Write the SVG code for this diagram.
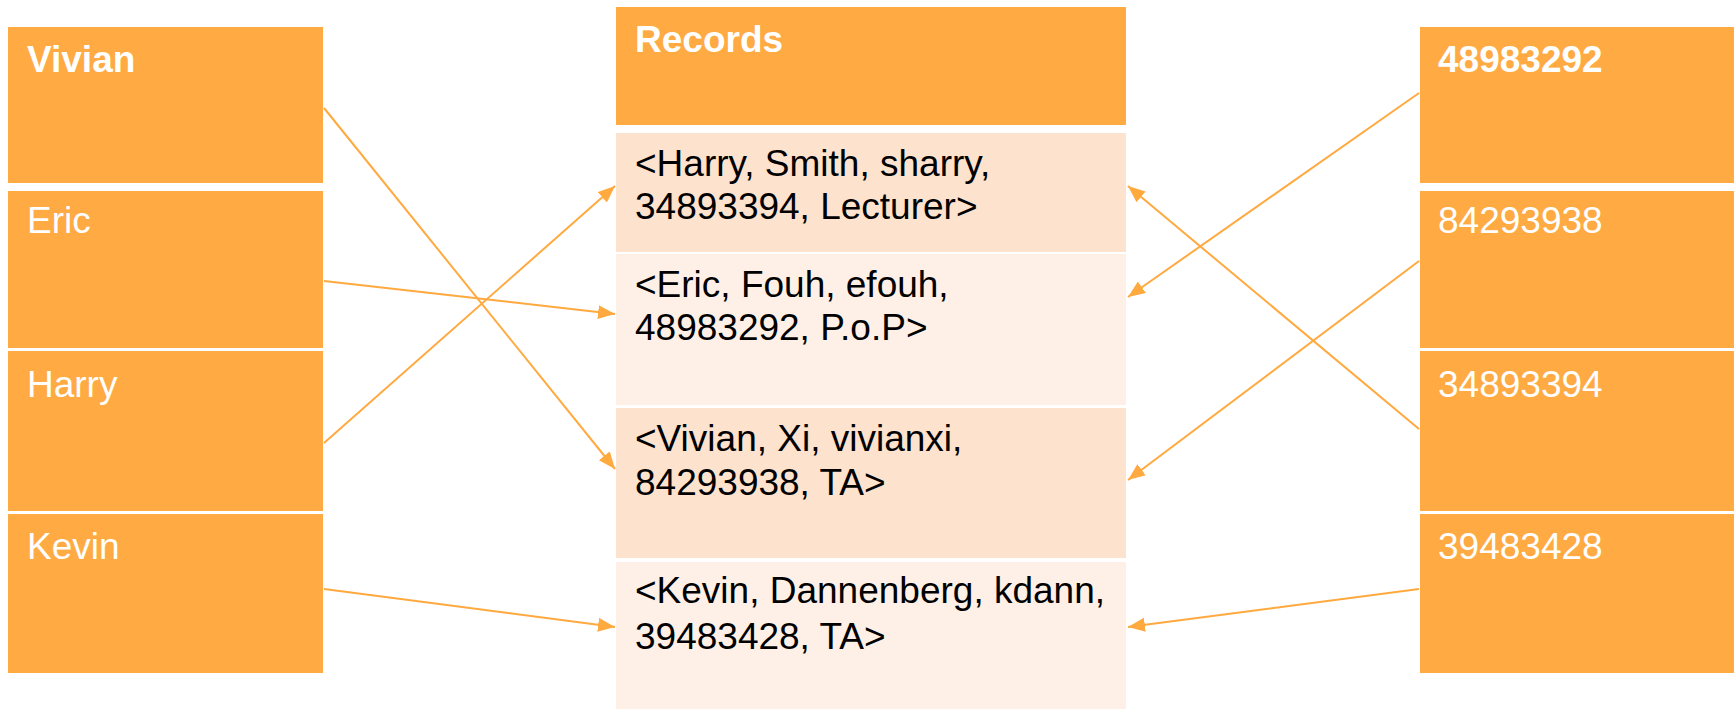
<svg xmlns="http://www.w3.org/2000/svg" width="1735" height="709" viewBox="0 0 1735 709">
  <style>
    .cell { fill: #FFAA42; }
    .rowA { fill: #FDE2CD; }
    .rowB { fill: #FEF0E7; }
    .head { font-family: "Liberation Sans", Arial, sans-serif; font-size: 37px; font-weight: bold; fill: #FFFFFF; }
    .lbl { font-family: "Liberation Sans", Arial, sans-serif; font-size: 37px; fill: #FFFFFF; }
    .rec { font-family: "Liberation Sans", Arial, sans-serif; font-size: 37px; fill: #000000; }
    .link { stroke: #FFA93F; stroke-width: 2; fill: none; marker-end: url(#arrow); }
  </style>
  <defs>
    <marker id="arrow" markerUnits="userSpaceOnUse" markerWidth="18" markerHeight="16" refX="17" refY="7" orient="auto">
      <path d="M0,0 L17,7 L0,14 z" fill="#FFA93F"/>
    </marker>
  </defs>
  <rect width="1735" height="709" fill="#FFFFFF"/>

  <!-- names column -->
  <g id="name-vivian">
    <rect class="cell" x="8" y="27" width="315" height="156"/>
    <text class="head" x="27" y="72">Vivian</text>
  </g>
  <g id="name-eric">
    <rect class="cell" x="8" y="191" width="315" height="157"/>
    <text class="lbl" x="27" y="233">Eric</text>
  </g>
  <g id="name-harry">
    <rect class="cell" x="8" y="351" width="315" height="160"/>
    <text class="lbl" x="27" y="397">Harry</text>
  </g>
  <g id="name-kevin">
    <rect class="cell" x="8" y="514" width="315" height="159"/>
    <text class="lbl" x="27" y="559">Kevin</text>
  </g>

  <!-- records column -->
  <g id="records-header">
    <rect class="cell" x="616" y="7" width="510" height="118"/>
    <text class="head" x="635" y="52">Records</text>
  </g>
  <g id="record-harry">
    <rect class="rowA" x="616" y="133" width="510" height="119"/>
    <text class="rec" x="635" y="176">&lt;Harry, Smith, sharry,</text>
    <text class="rec" x="635" y="219">34893394, Lecturer&gt;</text>
  </g>
  <g id="record-eric">
    <rect class="rowB" x="616" y="254" width="510" height="151"/>
    <text class="rec" x="635" y="297">&lt;Eric, Fouh, efouh,</text>
    <text class="rec" x="635" y="340">48983292, P.o.P&gt;</text>
  </g>
  <g id="record-vivian">
    <rect class="rowA" x="616" y="408" width="510" height="150"/>
    <text class="rec" x="635" y="451">&lt;Vivian, Xi, vivianxi,</text>
    <text class="rec" x="635" y="495">84293938, TA&gt;</text>
  </g>
  <g id="record-kevin">
    <rect class="rowB" x="616" y="562" width="510" height="147"/>
    <text class="rec" x="635" y="603">&lt;Kevin, Dannenberg, kdann,</text>
    <text class="rec" x="635" y="649">39483428, TA&gt;</text>
  </g>

  <!-- ids column -->
  <g id="id-48983292">
    <rect class="cell" x="1420" y="27" width="314" height="156"/>
    <text class="head" x="1438" y="72">48983292</text>
  </g>
  <g id="id-84293938">
    <rect class="cell" x="1420" y="191" width="314" height="157"/>
    <text class="lbl" x="1438" y="233">84293938</text>
  </g>
  <g id="id-34893394">
    <rect class="cell" x="1420" y="351" width="314" height="160"/>
    <text class="lbl" x="1438" y="397">34893394</text>
  </g>
  <g id="id-39483428">
    <rect class="cell" x="1420" y="514" width="314" height="159"/>
    <text class="lbl" x="1438" y="559">39483428</text>
  </g>

  <!-- pointers into the records -->
  <g id="connectors">
    <line class="link" x1="324" y1="108" x2="615" y2="469"/>
    <line class="link" x1="324" y1="281" x2="615" y2="314"/>
    <line class="link" x1="324" y1="443" x2="615" y2="186"/>
    <line class="link" x1="324" y1="589" x2="615" y2="627"/>
    <line class="link" x1="1419" y1="93" x2="1128" y2="297"/>
    <line class="link" x1="1419" y1="261" x2="1128" y2="480"/>
    <line class="link" x1="1419" y1="429" x2="1128" y2="186"/>
    <line class="link" x1="1419" y1="589" x2="1128" y2="627"/>
  </g>
</svg>
